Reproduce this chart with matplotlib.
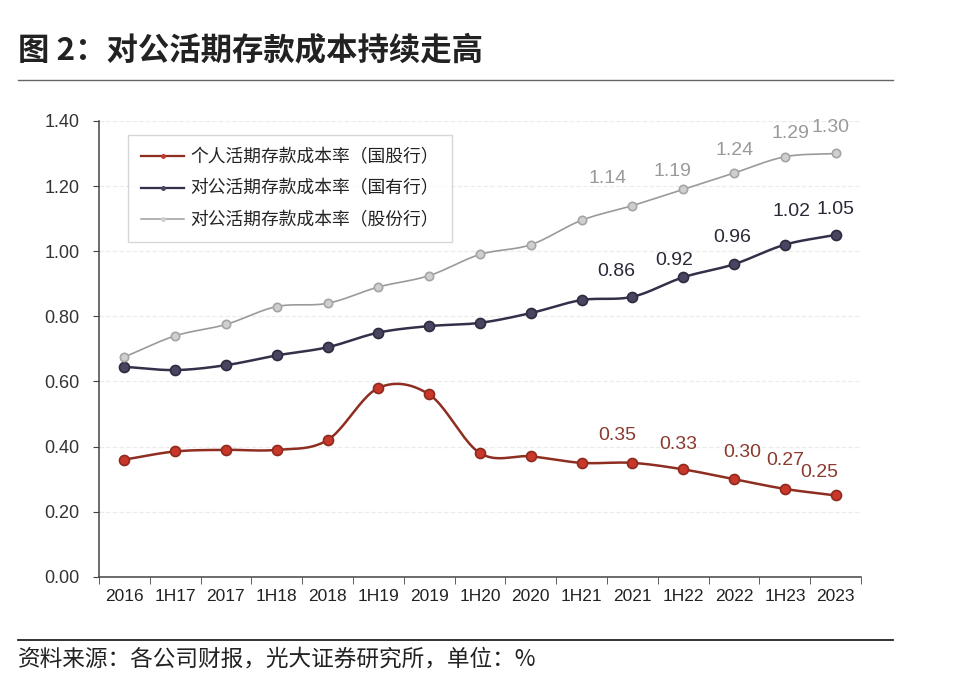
import numpy as np
import matplotlib
matplotlib.use('Agg')
from matplotlib import pyplot as plt
from matplotlib.lines import Line2D

plt.rcParams['font.family'] = ['Noto Sans CJK SC', 'DejaVu Sans']

periods = ['2016', '1H17', '2017', '1H18', '2018', '1H19', '2019', '1H20',
           '2020', '1H21', '2021', '1H22', '2022', '1H23', '2023']
personal_jointstock = [0.36, 0.385, 0.39, 0.39, 0.42, 0.58, 0.56, 0.38,
                       0.37, 0.35, 0.35, 0.33, 0.30, 0.27, 0.25]
corp_state = [0.645, 0.635, 0.65, 0.68, 0.705, 0.75, 0.77, 0.78,
              0.81, 0.85, 0.86, 0.92, 0.96, 1.02, 1.05]
corp_jointstock = [0.675, 0.74, 0.775, 0.83, 0.84, 0.89, 0.925, 0.99,
                   1.02, 1.095, 1.14, 1.19, 1.24, 1.29, 1.30]
series_names = ['个人活期存款成本率（国股行）',
                '对公活期存款成本率（国有行）',
                '对公活期存款成本率（股份行）']
label_from = 10  # data labels shown from 2021 onward


def smooth(y, n=24):
    # Catmull-Rom curve through the points (like office "smoothed line")
    y = np.asarray(y, float)
    x = np.arange(len(y), dtype=float)
    px = np.concatenate([[2 * x[0] - x[1]], x, [2 * x[-1] - x[-2]]])
    py = np.concatenate([[2 * y[0] - y[1]], y, [2 * y[-1] - y[-2]]])
    xs, ys = [], []
    t = np.linspace(0, 1, n)
    for i in range(1, len(px) - 2):
        for p, out in ((px, xs), (py, ys)):
            p0, p1, p2, p3 = p[i - 1], p[i], p[i + 1], p[i + 2]
            out.append(0.5 * ((2 * p1) + (-p0 + p2) * t
                              + (2 * p0 - 5 * p1 + 4 * p2 - p3) * t ** 2
                              + (-p0 + 3 * p1 - 3 * p2 + p3) * t ** 3))
    return np.concatenate(xs), np.concatenate(ys)


fig = plt.figure(figsize=(9.6, 6.95), dpi=100)
ax = fig.add_axes([0.103, 0.170, 0.794, 0.656])

styles = [
    dict(data=personal_jointstock, line='#8E2E20', face='#C9372A', edge='#8E2A1E',
         ms=7.2, lw=1.8, txt='#8A3A2E',
         dx=[-15, -5, 8, 0, -16], dy=[27, 25, 27, 28, 23]),
    dict(data=corp_state, line='#35304A', face='#4A4460', edge='#2E2A40',
         ms=7.2, lw=1.8, txt='#2B2838',
         dx=[-16, -9, -2, 7, 0], dy=[25, 17, 27, 33, 25]),
    dict(data=corp_jointstock, line='#9A9A9A', face='#CFCFCF', edge='#A5A5A5',
         ms=6.0, lw=1.2, txt='#9A9A9A',
         dx=[-25, -11, 0, 6, -5], dy=[27, 18, 23, 23, 26]),
]

x = np.arange(len(periods))
handles = []
for s, name in zip(styles, series_names):
    sx, sy = smooth(s['data'])
    ax.plot(sx, sy, color=s['line'], lw=s['lw'], zorder=3)
    ax.plot(x, s['data'], 'o', ms=s['ms'], mfc=s['face'], mec=s['edge'],
            mew=1.2, zorder=4)
    for k, i in enumerate(range(label_from, len(periods))):
        ax.annotate(f"{s['data'][i]:.2f}", (x[i], s['data'][i]),
                    xytext=(s['dx'][k], s['dy'][k]), textcoords='offset pixels',
                    ha='center', va='center', fontsize=14, color=s['txt'],
                    family=['Liberation Sans', 'DejaVu Sans'])
    handles.append(Line2D([], [], color=s['line'], lw=s['lw'] * 0.9,
                          marker='o', ms=2.5, mfc=s['face'], mec=s['face']))

ax.set_xlim(-0.5, len(periods) - 0.5)
ax.set_ylim(0, 1.4)
ax.set_yticks(np.arange(0, 1.41, 0.2))
ax.set_yticklabels([f'{v:.2f}' for v in np.arange(0, 1.41, 0.2)],
                   family=['Liberation Sans', 'DejaVu Sans'],
                   fontsize=13, color='#333333')
ax.set_xticks(x)
ax.set_xticklabels(periods, family=['Liberation Sans', 'DejaVu Sans'],
                   fontsize=12.5, color='#222222')
ax.set_xticks(np.arange(-0.5, len(periods)), minor=True)
ax.tick_params(axis='x', which='major', length=0, pad=9)
ax.tick_params(axis='x', which='minor', length=5, color='#444444')
ax.tick_params(axis='y', length=4, color='#444444', pad=10)

ax.grid(axis='y', color='#ececec', lw=0.9, ls='--')
ax.set_axisbelow(True)
for side in ('top', 'right'):
    ax.spines[side].set_visible(False)
for side in ('left', 'bottom'):
    ax.spines[side].set_color('#444444')
    ax.spines[side].set_linewidth(1.1)

leg = ax.legend(handles, series_names, loc='upper left',
                bbox_to_anchor=(0.038, 0.969), borderaxespad=0,
                fontsize=12.8, frameon=True,
                fancybox=False, edgecolor='#cccccc', handlelength=2.4,
                handletextpad=0.35, labelspacing=0.75, borderpad=0.75)
leg.get_frame().set_linewidth(1.0)
for t in leg.get_texts():
    t.set_color('#222222')

fig.text(0.019, 0.928, '图 2：对公活期存款成本持续走高', fontsize=22.6,
         fontweight='bold', color='#222222', va='center')
fig.add_artist(Line2D([0.019, 0.93], [0.885, 0.885], color='#666666', lw=1.0))
fig.add_artist(Line2D([0.019, 0.93], [0.079, 0.079], color='#222222', lw=1.3))
fig.text(0.019, 0.052, '资料来源：各公司财报，光大证券研究所，单位：%', fontsize=16.3,
         color='#222222', va='center')

fig.savefig('out.png', dpi=100, facecolor='white')
